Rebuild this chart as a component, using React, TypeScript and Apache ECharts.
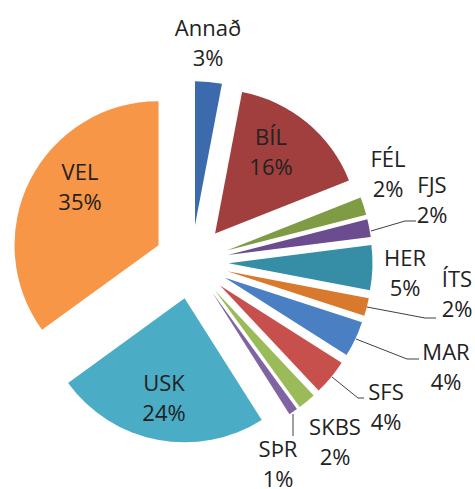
import React, { useEffect, useRef } from "react";
import * as echarts from "echarts";

const categories = ["Annað", "BÍL", "FÉL", "FJS", "HER", "ÍTS", "MAR", "SFS", "SKBS", "SÞR", "USK", "VEL"];
const shares = [3, 16, 2, 2, 5, 2, 4, 4, 2, 1, 24, 35];
const colors = ["#3c6bad", "#a03f3d", "#7f9b43", "#6b4d8f", "#358ea5", "#d8792d", "#4a7fc3", "#c8504c", "#9bbb59", "#8064a2", "#4bacc6", "#f79646"];

// label block centres (layout, not data)
const labelPos: number[][] = [
  [208, 42], [271, 151], [388, 173], [432, 199], [405, 272], [457, 293],
  [446, 366], [386, 406], [335, 441], [278, 463], [164, 397], [80, 186],
];
const leaderPts: Record<number, number[][]> = {
  3: [[371, 231], [405, 221], [416, 221]],
  5: [[367, 307], [425, 318], [436, 318]],
  6: [[356, 339], [407, 359], [419, 359]],
  7: [[332, 377], [358, 398], [364, 398]],
  9: [[293, 414], [293, 436]],
};

export default function App() {
  const ref = useRef<HTMLDivElement>(null);
  useEffect(() => {
    if (!ref.current) return;
    const chart = echarts.init(ref.current, undefined, { renderer: "svg" });
    const texts = categories.map((name, i) => ({
      type: "text",
      x: labelPos[i][0],
      y: labelPos[i][1],
      z: 100,
      silent: true,
      style: {
        text: `${name}\n${shares[i]}%`,
        fontFamily: "Open Sans",
        fontSize: 22,
        lineHeight: 30,
        fill: "#222222",
        align: "center",
        verticalAlign: "middle",
      },
    }));
    const lines = Object.keys(leaderPts).map((k) => ({
      type: "polyline",
      z: 100,
      silent: true,
      shape: { points: leaderPts[Number(k)] },
      style: { stroke: "#404040", lineWidth: 1, fill: "none" },
    }));
    chart.setOption({
      animation: false,
      graphic: [...lines, ...texts],
      series: [
        {
          type: "pie",
          z: 1,
          center: [191.5, 262],
          radius: 144,
          startAngle: 90,
          clockwise: true,
          selectedMode: "multiple",
          selectedOffset: 37,
          avoidLabelOverlap: false,
          emphasis: { disabled: true },
          itemStyle: { borderWidth: 0 },
          label: { show: false },
          labelLine: { show: false },
          data: categories.map((name, i) => ({
            name,
            value: shares[i],
            selected: true,
            itemStyle: { color: colors[i] },
          })),
        },
      ],
    });
    return () => chart.dispose();
  }, []);
  return <div ref={ref} style={{ position: "fixed", left: 0, top: 0, width: 475, height: 489, background: "#fff" }} />;
}
